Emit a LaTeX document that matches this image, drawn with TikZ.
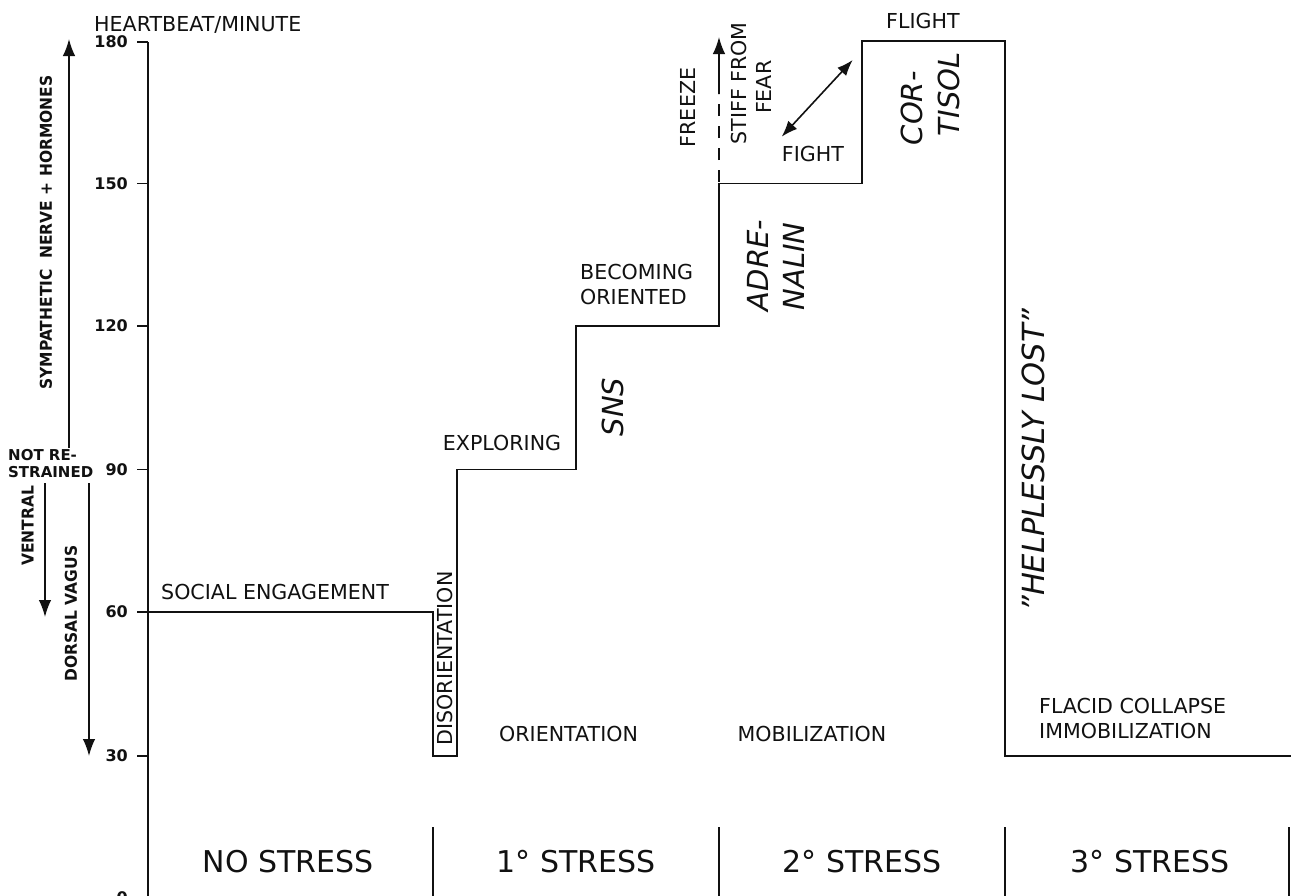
\documentclass[tikz,border=0pt]{standalone}
\usepackage{fontspec}
\setmainfont{DejaVu Sans}
\newfontfamily\condfont[FakeStretch=0.95]{DejaVu Sans}
\usetikzlibrary{arrows.meta}
\definecolor{ink}{HTML}{111111}
\tikzset{
  mainline/.style={draw=ink, line width=1.9pt, line join=miter},
  axisline/.style={draw=ink, line width=1.9pt},
  sepline/.style={draw=ink, line width=1.2pt},
  arr/.style={draw=ink, line width=1.6pt, -{Latex[length=17pt,width=12.5pt]}},
  darr/.style={draw=ink, line width=1.6pt, {Latex[length=16pt,width=12pt]}-{Latex[length=16pt,width=12pt]}},
  lbl/.style={text=ink, font=\fontsize{20.6}{25}\selectfont, inner sep=0pt, anchor=base west},
  biglbl/.style={text=ink, font=\fontsize{30}{36}\selectfont, inner sep=0pt, anchor=base},
  ital/.style={text=ink, font=\fontsize{29}{34}\selectfont\itshape, inner sep=0pt, rotate=90},
  rlbl/.style={text=ink, font=\fontsize{20.6}{25}\selectfont, inner sep=0pt, rotate=90},
  ticklbl/.style={text=ink, font=\fontsize{16}{19}\selectfont\bfseries, inner sep=0pt, anchor=east},
  sidelbl/.style={text=ink, font=\fontsize{16.3}{19}\selectfont\condfont\bfseries, inner sep=0pt, rotate=90},
  nrlbl/.style={text=ink, font=\fontsize{15}{17.5}\selectfont\bfseries, inner sep=0pt, anchor=base west},
}
\begin{document}
\begin{tikzpicture}[x=1pt,y=-1pt]
\useasboundingbox[fill=white] (0,0) rectangle (1291,895);

% axis
\coordinate (ax0) at (148,42);
\coordinate (ax1) at (148,900);
\draw[axisline] (ax0) -- (ax1);

% ticks and labels
\foreach \v/\yy in {180/42,150/183.5,120/326,90/469.5,60/612,30/756}{
  \coordinate (t\v a) at (137,\yy);
  \coordinate (t\v b) at (148,\yy);
  \draw[axisline, line width=1.4pt] (t\v a) -- (t\v b);
  \node[ticklbl] (tl\v) at (128,\yy) {\v};
}
\node[ticklbl] (tl0) at (128,898) {0};

% step function
\coordinate (s0) at (148,612);
\coordinate (s1) at (433,612);
\coordinate (s2) at (433,756);
\coordinate (s3) at (457,756);
\coordinate (s4) at (457,469.5);
\coordinate (s5) at (576,469.5);
\coordinate (s6) at (576,326);
\coordinate (s7) at (719,326);
\coordinate (s8) at (719,183.5);
\coordinate (s9) at (862,183.5);
\coordinate (s10) at (862,41);
\coordinate (s11) at (1005,41);
\coordinate (s12) at (1005,756);
\coordinate (s13) at (1291,756);
\draw[mainline] (s0) -- (s1) -- (s2) -- (s3) -- (s4) -- (s5) -- (s6) -- (s7) -- (s8) -- (s9) -- (s10) -- (s11) -- (s12) -- (s13);

% freeze arrow
\coordinate (fz0) at (719,182);
\coordinate (fz1) at (719,94);
\coordinate (fz2) at (719,37);
\draw[draw=ink, line width=1.6pt, dash pattern=on 12pt off 10pt] (fz0) -- (fz1);
\draw[arr] (fz1) -- (fz2);

% fight-flight arrow
\coordinate (fg1) at (781.7,136.7);
\coordinate (fg2) at (852.7,60);
\draw[darr] (fg1) -- (fg2);

% left arrows
\coordinate (sy0) at (69,448);
\coordinate (sy1) at (69,39);
\draw[arr] (sy0) -- (sy1);
\coordinate (ve0) at (45,483);
\coordinate (ve1) at (45,617);
\draw[arr] (ve0) -- (ve1);
\coordinate (do0) at (89,483);
\coordinate (do1) at (89,756);
\draw[arr] (do0) -- (do1);

% bottom separators
\foreach \xx/\nm in {433/a,719/b,1005/c,1289/d}{
  \coordinate (sep\nm0) at (\xx,827);
  \coordinate (sep\nm1) at (\xx,900);
  \draw[sepline] (sep\nm0) -- (sep\nm1);
}

% bottom labels
\node[biglbl] (ns) at (288,872) {NO STRESS};
\node[biglbl] (s1l) at (576,872) {1° STRESS};
\node[biglbl] (s2l) at (862,872) {2° STRESS};
\node[biglbl] (s3l) at (1150,872) {3° STRESS};

% horizontal labels
\node[lbl] (hb) at (94,31) {HEARTBEAT/MINUTE};
\node[lbl] (se) at (161,599) {SOCIAL ENGAGEMENT};
\node[lbl] (ex) at (442.7,450) {EXPLORING};
\node[lbl] (bc1) at (580,279.5) {BECOMING};
\node[lbl] (bc2) at (580,304.5) {ORIENTED};
\node[lbl] (fi) at (781.7,161) {FIGHT};
\node[lbl] (fl) at (886,28.3) {FLIGHT};
\node[lbl] (or) at (499,741.7) {ORIENTATION};
\node[lbl] (mo) at (737.5,741.7) {MOBILIZATION};
\node[lbl] (fc1) at (1039,713) {FLACID COLLAPSE};
\node[lbl] (fc2) at (1039,738) {IMMOBILIZATION};
\node[nrlbl] (nr1) at (8,460) {NOT RE-};
\node[nrlbl] (nr2) at (8,477.7) {STRAINED};

% rotated labels
\node[rlbl] (dis) at (445,658.5) {DISORIENTATION};
\node[rlbl] (frz) at (688,107.5) {FREEZE};
\node[rlbl] (st1) at (739.3,83.3) {STIFF FROM};
\node[rlbl] (st2) at (764.3,87.3) {FEAR};
\node[ital] (sns) at (613,407) {SNS};
\node[ital] (ad1) at (758,265.5) {ADRE-};
\node[ital] (ad2) at (794,266.5) {NALIN};
\node[ital] (co1) at (912.3,108.3) {COR-};
\node[ital] (co2) at (949,94.2) {TISOL};
\node[ital, font=\fontsize{30.5}{36}\selectfont\itshape] (hl) at (1033,460) {"HELPLESSLY LOST”};

% side labels
\node[sidelbl] (sym) at (46,232.5) {SYMPATHETIC\ \ NERVE + HORMONES};
\node[sidelbl] (ven) at (27.7,526) {VENTRAL};
\node[sidelbl] (dor) at (71,613.5) {DORSAL VAGUS};
\end{tikzpicture}
\end{document}
